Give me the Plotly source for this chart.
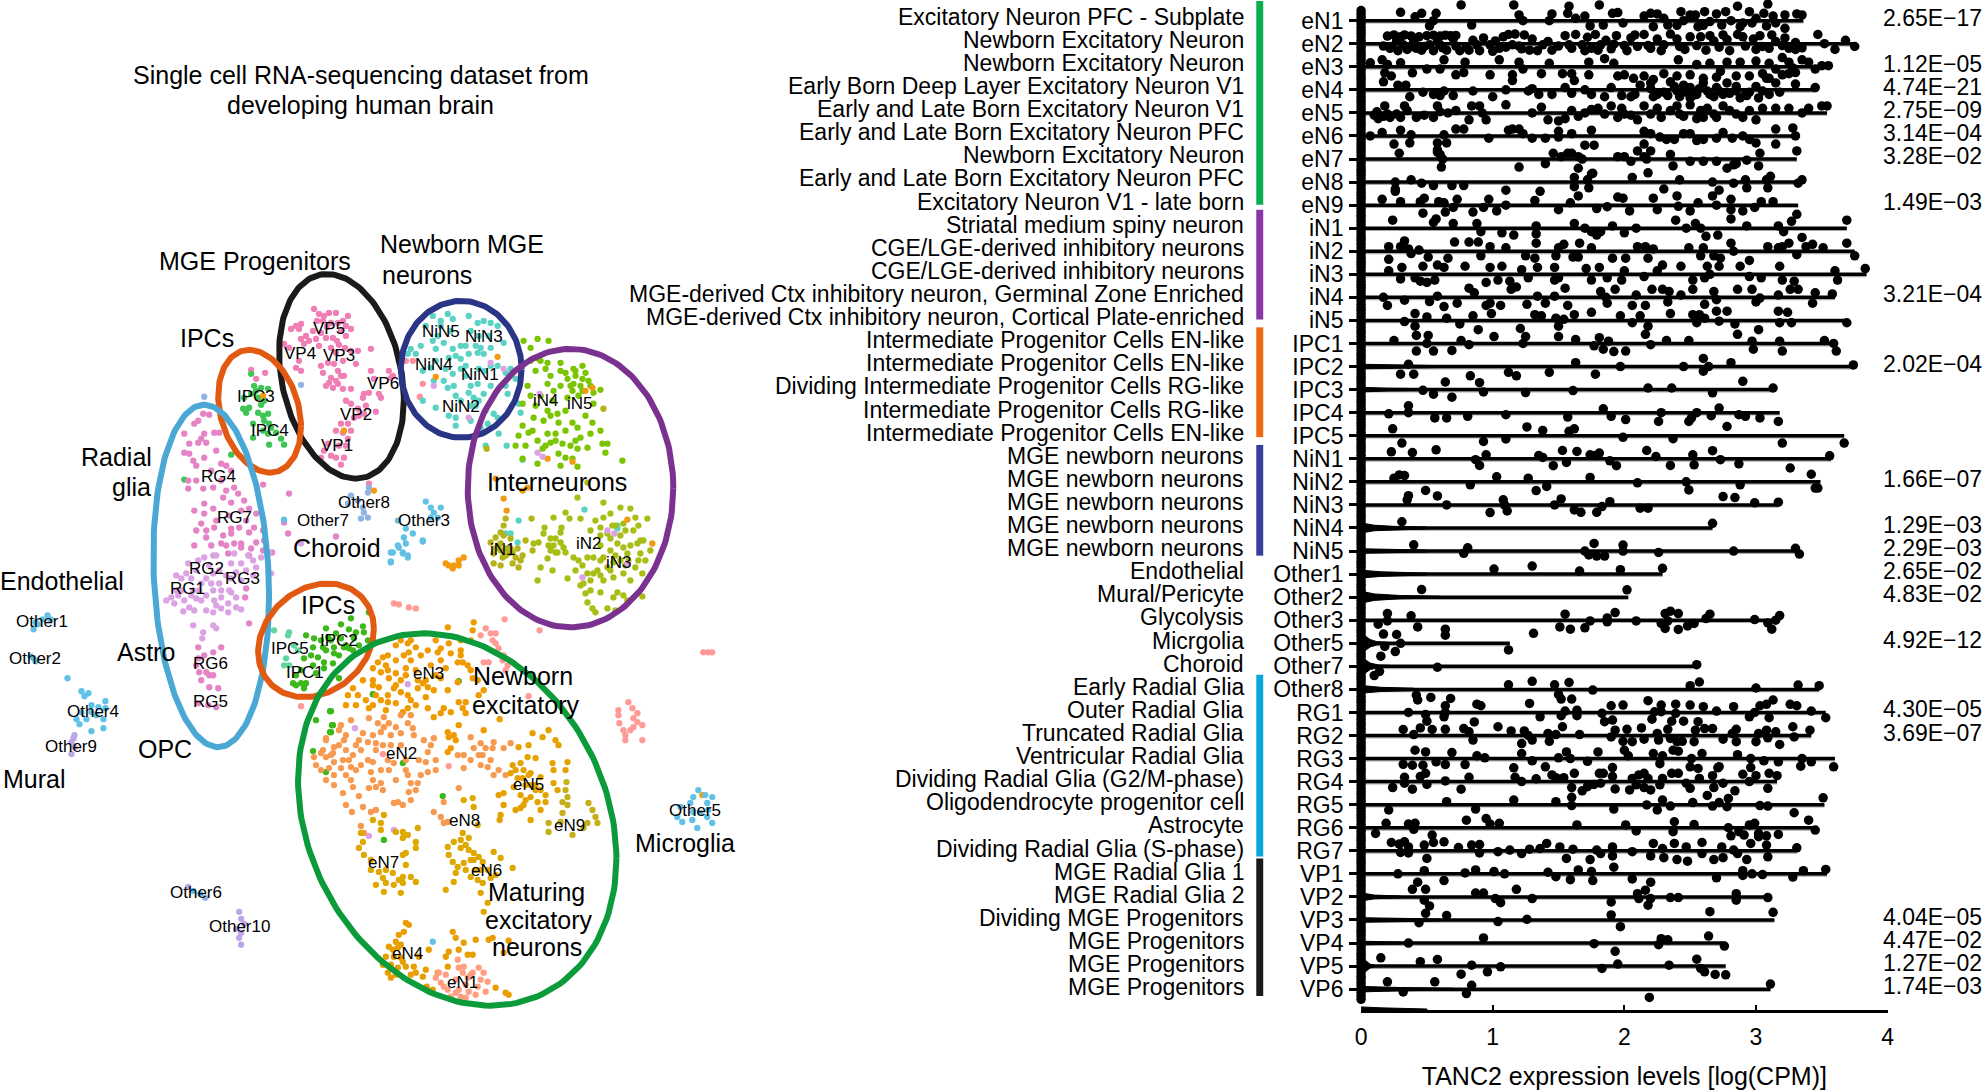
import numpy as np
import plotly.graph_objects as go

W, H = 1988, 1090
K = 1988/1568
rows = ["eN1","eN2","eN3","eN4","eN5","eN6","eN7","eN8","eN9","iN1","iN2","iN3","iN4","iN5","IPC1","IPC2","IPC3","IPC4","IPC5","NiN1","NiN2","NiN3","NiN4","NiN5","Other1","Other2","Other3","Other5","Other7","Other8","RG1","RG2","RG3","RG4","RG5","RG6","RG7","VP1","VP2","VP3","VP4","VP5","VP6"]
names = ["Excitatory Neuron PFC - Subplate","Newborn Excitatory Neuron","Newborn Excitatory Neuron","Early Born Deep Layer Excitatory Neuron V1","Early and Late Born Excitatory Neuron V1","Early and Late Born Excitatory Neuron PFC","Newborn Excitatory Neuron","Early and Late Born Excitatory Neuron PFC","Excitatory Neuron V1 - late born","Striatal medium spiny neuron","CGE/LGE-derived inhibitory neurons","CGE/LGE-derived inhibitory neurons","MGE-derived Ctx inhibitory neuron, Germinal Zone Enriched","MGE-derived Ctx inhibitory neuron, Cortical Plate-enriched","Intermediate Progenitor Cells EN-like","Intermediate Progenitor Cells EN-like","Dividing Intermediate Progenitor Cells RG-like","Intermediate Progenitor Cells RG-like","Intermediate Progenitor Cells EN-like","MGE newborn neurons","MGE newborn neurons","MGE newborn neurons","MGE newborn neurons","MGE newborn neurons","Endothelial","Mural/Pericyte","Glycolysis","Micrgolia","Choroid","Early Radial Glia","Outer Radial Glia","Truncated Radial Glia","Ventricular Radial Glia","Dividing Radial Glia (G2/M-phase)","Oligodendrocyte progenitor cell","Astrocyte","Dividing Radial Glia (S-phase)","MGE Radial Glia 1","MGE Radial Glia 2","Dividing MGE Progenitors","MGE Progenitors","MGE Progenitors","MGE Progenitors"]
pvals = {"eN1":"2.65E−17","eN3":"1.12E−05","eN4":"4.74E−21","eN5":"2.75E−09","eN6":"3.14E−04","eN7":"3.28E−02","eN9":"1.49E−03","iN4":"3.21E−04","IPC2":"2.02E−04","NiN2":"1.66E−07","NiN4":"1.29E−03","NiN5":"2.29E−03","Other1":"2.65E−02","Other2":"4.83E−02","Other5":"4.92E−12","RG1":"4.30E−05","RG2":"3.69E−07","VP3":"4.04E−05","VP4":"4.47E−02","VP5":"1.27E−02","VP6":"1.74E−03"}
vmax = [3.36,3.75,3.55,3.45,3.54,3.30,3.31,3.35,3.32,3.69,3.75,3.84,3.60,3.69,3.61,3.74,3.13,3.18,3.67,3.57,3.49,3.17,2.67,3.33,2.29,2.03,3.18,1.13,2.55,3.48,3.53,3.42,3.60,3.16,3.52,3.45,3.31,3.54,3.10,3.14,2.76,2.77,3.11]

# expression values per cluster: (log CPM, jitter in row units)
eN1_pts=[(.30,-.36),(.41,-.17),(.46,-.32),(.57,-.32),(.55,0),(.52,.23),(.76,-.68),(.84,.19),(1.16,-.68),(1.20,-.25),(1.23,0),(1.45,-.29),(1.43,0),(1.58,-.63),(1.57,-.32),(1.63,-.1),(1.70,-.2),(1.74,.23),(1.81,-.68),(1.84,.19),(1.91,-.32),(1.95,-.35),(1.99,.1),(2.20,-.32),(2.22,.26),(2.25,-.29),(2.33,.19),(2.43,-.39),(2.45,0),(2.50,-.25),(2.54,-.25),(2.56,.26),(2.61,-.39),(2.65,.04),(2.70,-.29),(2.74,.19),(2.77,-.39),(2.81,0),(2.86,-.63),(2.88,.26),(2.95,-.39),(2.97,.1),(3.06,-.32),(3.09,-.72),(3.08,.23),(3.13,-.2),(3.22,-.25),(3.22,.33),(3.31,-.29),(3.35,-.25),(2.4,.2),(2.6,.2),(2.9,.1),(3.0,-.1),(3.15,.1),(2.3,-.1),(2.15,-.2)]
eN2_pts=[(.2,-.33),(.25,-.38),(.3,-.3),(.33,-.38),(.38,-.34),(.44,-.3),(.5,-.35),(.55,-.37),(.6,-.33),(.64,-.37),(.68,-.35),(.72,-.36),(.17,.1),(.22,.2),(.28,.3),(.32,.05),(.35,.25),(.42,.2),(.48,.12),(.55,.3),(.6,.05),(.65,.28),(.72,.1),(.8,.15),(.85,-.15),(.9,.3),(.93,-.25),(.98,.05),(1.0,.33),(1.05,.2),(1.08,-.3),(1.12,-.4),(1.17,-.42),(1.2,.1),(1.24,-.38),(1.28,.28),(1.3,-.2),(1.38,.05),(1.42,-.1),(1.5,.1),(1.55,-.35),(1.6,.2),(1.63,-.4),(1.68,.05),(1.72,-.28),(1.75,.2),(1.78,-.4),(1.82,.05),(1.86,-.15),(1.9,.22),(1.94,-.35),(2.0,.08),(2.05,-.25),(2.1,.12),(2.15,-.4),(2.2,.2),(2.25,-.2),(2.3,.05),(2.35,-.42),(2.42,.12),(2.5,-.3),(2.55,.08),(2.62,.28),(2.65,-.35),(2.72,.15),(2.78,-.18),(2.8,.3),(2.86,-.4),(2.92,.1),(2.98,-.2),(3.03,-.35),(3.05,.12),(3.1,.2),(3.15,-.1),(3.2,.08),(3.25,.2),(3.3,-.05),(3.35,.18),(3.47,-.4),(3.52,0),(3.6,.25),(3.68,-.15),(3.75,.12),(.23,.12),(.27,-.12),(.37,.15),(.4,-.1),(.46,.28),(.52,.05),(.58,-.12),(.62,.18),(.7,-.22),(.75,.3),(.82,.28),(.88,.05),(1.02,-.12),(1.1,.15),(1.15,.05),(1.22,.22),(1.34,.3),(1.45,.28),(1.58,.05),(1.7,.3),(1.8,.28),(1.92,.02),(2.02,.3),(2.08,-.38),(2.18,.08),(2.28,.3),(2.4,-.2),(2.46,.25),(2.58,-.3),(2.68,-.12),(2.75,-.38),(2.9,-.3),(3.0,.25),(3.12,-.38),(3.22,-.25),(3.3,.25)]
eN3_pts=[(.07,-.17),(.16,-.3),(.2,-.1),(.18,.26),(.23,.4),(.3,-.17),(.39,.26),(.5,.1),(.6,.1),(.63,-.3),(.72,.35),(.78,.25),(.79,-.2),(.98,.35),(1.05,-.3),(1.15,.35),(1.2,-.2),(1.23,.1),(1.37,.3),(1.43,-.15),(1.53,.3),(1.6,.3),(1.73,-.2),(1.73,.35),(1.85,-.35),(1.92,-.15),(2.0,.35),(2.07,.5),(2.15,.4),(2.22,.55),(2.4,.4),(2.41,-.3),(2.5,.35),(2.6,.5),(2.65,-.15),(2.7,.45),(2.73,.2),(2.78,-.2),(2.85,.4),(2.88,-.2),(2.95,.4),(3.0,-.25),(3.08,.5),(3.1,-.15),(3.2,-.4),(3.25,.3),(3.28,.05),(3.35,-.3),(3.4,-.2),(3.45,.1),(3.5,-.05),(3.55,-.05),(3.3,.25),(3.2,.35),(3.1,.5),(3.05,.3),(3.15,.1),(3.25,-.2),(2.55,-.1),(2.3,.3),(1.95,.4)]
eN4_pts=[(.17,-.35),(.28,-.2),(.34,-.2),(.37,.3),(.47,.1),(.55,.2),(.6,.25),(.63,.05),(.7,.25),(.85,.05),(1.0,.3),(1.1,0),(1.15,-.4),(1.27,.05),(1.3,-.05),(1.35,.2),(1.45,.2),(1.55,-.1),(1.6,.15),(1.62,-.4),(1.7,0),(1.75,.2),(1.85,.3),(1.98,.25),(2.08,.2),(2.12,-.2),(2.2,-.05),(2.22,.3),(2.3,.1),(2.35,-.35),(2.4,.05),(2.42,.3),(2.5,-.1),(2.55,.2),(2.6,-.3),(2.63,.05),(2.68,.3),(2.7,-.1),(2.75,.2),(2.78,-.3),(2.85,.05),(2.88,.35),(2.92,.2),(3.0,-.15),(3.02,.35),(3.1,.2),(3.15,-.3),(3.18,.1),(3.3,-.25),(3.45,-.1),(2.45,-.2),(2.52,.25),(2.85,-.15),(2.93,.25),(2.25,.2),(2.33,.25),(2.38,-.15),(2.47,.1),(2.57,-.05),(2.65,.2),(2.72,.05),(2.8,.15),(2.95,.1),(3.05,.05),(2.2,-.3),(2.5,.35),(1.9,-.1),(2.05,.3)]
eN5_pts=[(.1,.1),(.13,.25),(.17,.15),(.18,-.3),(.22,.2),(.3,.2),(.33,-.3),(.35,-.1),(.42,.2),(.48,.1),(.55,.2),(.58,-.3),(.6,-.05),(.66,0),(.72,-.1),(.82,.3),(.84,-.3),(.9,-.3),(.92,0),(.95,.3),(1.1,-.35),(1.3,0),(1.37,-.25),(1.42,.3),(1.5,.35),(1.55,.25),(1.6,-.1),(1.65,.15),(1.7,0),(1.75,-.15),(1.8,-.2),(1.9,-.3),(1.95,.2),(2.0,.05),(2.1,.3),(2.15,-.3),(2.2,.05),(2.28,.2),(2.35,-.1),(2.4,-.3),(2.45,.15),(2.5,-.35),(2.55,.25),(2.63,-.2),(2.68,.05),(2.75,-.3),(2.8,-.1),(2.9,.2),(3.05,-.2),(3.15,-.2),(3.25,-.2),(3.35,0),(3.4,-.2),(3.5,-.3),(3.54,-.3),(2.6,.2),(3.0,.3),(.12,-.05),(.2,.05),(.27,.05),(1.85,.05),(2.05,.1),(2.25,-.2),(2.42,.05),(2.58,-.1),(2.7,.2),(2.85,.05),(2.95,-.1),(1.98,-.2)]
eN6_pts=[(.07,0),(.16,-.15),(.25,.35),(.3,-.25),(.38,-.05),(.37,.3),(.65,.3),(.63,-.05),(.72,-.3),(.78,-.3),(.97,.1),(1.12,-.25),(1.15,-.3),(1.2,-.3),(1.23,-.1),(1.3,.1),(1.4,.1),(1.5,.05),(1.5,-.2),(1.6,-.1),(1.7,.4),(1.77,.4),(1.75,-.25),(2.15,-.2),(2.2,-.1),(2.27,.05),(2.32,.15),(2.38,.15),(2.45,-.1),(2.5,-.1),(2.55,.2),(2.6,.15),(2.7,.1),(2.75,-.15),(2.82,.1),(2.9,0),(2.95,.15),(3.0,.3),(3.15,.35),(3.15,-.3),(3.28,-.35),(3.3,0),(2.15,.35),(.58,.3),(.58,.6)]
eN7_pts=[(.29,-.25),(.58,-.3),(.6,-.2),(.62,0),(.61,.35),(1.2,.35),(1.4,.2),(1.46,-.25),(1.52,-.1),(1.57,-.25),(1.6,-.25),(1.65,-.1),(1.68,0),(1.65,.4),(1.76,.62),(1.95,-.1),(2.0,-.1),(2.05,.1),(2.1,-.35),(2.15,-.1),(2.17,0),(2.2,-.35),(2.35,-.2),(2.37,.3),(2.5,.1),(2.6,.1),(2.7,.1),(2.78,.4),(2.83,.25),(2.85,.2),(2.93,.05),(3.03,-.25),(3.02,.3),(3.31,-.35)]
eN8_pts=[(.26,.4),(.26,.3),(.26,0),(.38,-.1),(.46,.05),(.55,.15),(.69,.15),(.78,.15),(1.1,.35),(1.36,.4),(1.62,-.2),(1.62,.2),(1.72,-.1),(1.73,.25),(1.75,-.35),(2.06,-.2),(2.18,-.4),(2.3,.3),(2.42,-.1),(2.67,0),(2.72,.35),(2.83,.05),(2.92,-.1),(2.93,.25),(3.08,-.1),(3.11,-.25),(3.09,.25),(3.35,-.1),(3.32,.05)]
eN9_pts=[(.16,-.25),(.3,-.15),(.45,-.15),(.48,-.3),(.59,-.15),(.63,-.1),(.73,-.25),(.7,.1),(.64,.3),(.47,.35),(.85,.3),(.97,-.25),(.93,.1),(1.03,.25),(1.1,0),(1.32,-.2),(1.5,.2),(1.59,-.1),(1.65,-.4),(1.79,.15),(1.87,.07),(1.95,-.35),(1.99,-.3),(2.04,.25),(2.22,-.3),(2.25,.2),(2.4,-.4),(2.41,.05),(2.5,.25),(2.56,-.1),(2.67,-.4),(2.7,0),(2.81,-.25),(2.81,.2),(2.9,.25),(2.99,.1),(3.04,-.15),(3.13,-.15),(3.31,.4)]
iN1_pts=[(.24,-.35),(.55,-.25),(.57,-.4),(.7,-.2),(.88,-.2),(.91,.15),(1.07,.2),(1.16,.3),(1.33,-.1),(1.33,.25),(1.62,-.2),(1.7,0),(1.75,.15),(1.79,.3),(1.82,.15),(1.91,-.1),(2.0,.2),(2.09,0),(2.39,-.35),(2.47,0),(2.54,-.2),(2.58,0),(2.62,.35),(2.71,.3),(2.81,-.4),(2.93,-.1),(3.17,-.1),(3.21,.15),(3.27,-.3),(3.69,-.35)]
iN2_pts=[(.21,-.2),(.3,-.2),(.33,-.45),(.36,-.1),(.44,-.05),(.21,.35),(.38,.1),(.51,.25),(.66,.3),(.71,-.4),(.82,-.4),(.89,-.4),(.98,-.2),(.91,.2),(1.1,-.15),(1.25,.2),(1.32,.3),(1.33,-.35),(1.5,-.15),(1.48,.2),(1.54,-.3),(1.61,.25),(1.65,.25),(1.66,-.35),(1.75,-.15),(1.91,.3),(2.01,.3),(2.1,-.2),(2.16,-.2),(2.18,.3),(2.22,-.1),(2.49,-.15),(2.58,.2),(2.6,-.15),(2.68,.2),(2.73,.3),(2.81,-.35),(2.83,0),(3.09,-.2),(3.17,-.15),(3.2,-.2),(3.25,-.35),(3.31,.15),(3.35,-.6),(3.38,-.2),(3.43,-.3),(3.51,-.15),(3.69,-.35),(3.75,.2)]
iN3_pts=[(.21,-.15),(.31,-.3),(.3,.2),(.41,.15),(.47,-.35),(.45,.3),(.5,.35),(.56,.25),(.58,-.4),(.63,-.3),(.79,-.35),(.95,.35),(.98,-.3),(1.07,-.35),(1.04,.25),(1.13,.3),(1.22,-.2),(1.27,.15),(1.34,-.3),(1.47,-.3),(1.47,.25),(1.5,.15),(1.71,-.25),(1.75,.25),(1.81,-.3),(1.87,.15),(2.0,-.15),(1.98,.25),(2.15,.1),(2.25,-.15),(2.29,-.4),(2.43,-.35),(2.52,.25),(2.61,.15),(2.63,-.35),(2.65,0),(2.72,-.35),(2.88,-.35),(2.95,-.6),(2.95,.1),(3.04,.15),(3.18,-.35),(3.2,.25),(3.29,.3),(3.6,-.15),(3.62,.25),(3.83,-.25)]
iN4_pts=[(.17,0),(.2,.35),(.33,.12),(.52,.18),(.58,-.05),(.63,.4),(.73,.25),(.82,-.4),(.86,-.2),(.95,.35),(.98,.25),(1.06,.35),(1.14,-.35),(1.18,-.45),(1.26,.3),(1.34,-.05),(1.4,.25),(1.47,-.05),(1.55,-.4),(1.57,.35),(1.82,-.25),(1.86,0),(1.87,.25),(1.93,-.35),(2.06,.35),(2.09,-.1),(2.16,.35),(2.21,-.35),(2.29,-.35),(2.34,-.25),(2.33,.2),(2.43,-.1),(2.52,-.35),(2.61,.3),(2.68,-.25),(2.7,.1),(2.86,-.35),(2.97,-.35),(3.0,.2),(3.03,.03),(3.17,-.1),(3.26,-.35),(3.32,-.35),(3.43,.25),(3.45,-.2),(3.58,-.15)]
iN5_pts=[(.33,.05),(.41,-.3),(.41,.25),(.5,-.15),(.65,-.1),(.75,.15),(.85,-.2),(.99,-.3),(1.32,-.25),(1.37,-.2),(1.48,-.1),(1.5,.25),(1.54,-.05),(1.62,-.25),(1.75,-.35),(1.97,-.2),(2.06,.1),(2.12,-.2),(2.18,.25),(2.35,-.3),(2.52,-.25),(2.57,-.25),(2.55,.1),(2.61,-.1),(2.7,-.4),(2.72,.03),(2.78,-.4),(2.84,.15),(3.17,-.4),(3.18,.1),(3.24,-.35),(3.27,.1),(3.69,.1)]
IPC1_pts=[(.25,-.13),(.42,-.35),(.51,-.35),(.5,0),(.42,.33),(.55,.33),(.69,.3),(.76,-.13),(.82,.05),(.89,-.6),(1.01,-.3),(1.21,-.65),(1.25,-.3),(1.23,0),(1.5,-.3),(1.63,-.17),(1.81,-.25),(1.77,.1),(1.84,.25),(1.88,-.1),(1.92,.35),(2.01,.33),(2.16,-.4),(2.2,.05),(2.32,-.13),(2.49,-.13),(2.86,-.4),(2.97,-.1),(2.98,.25),(3.02,-.6),(3.18,-.1),(3.2,.33),(3.52,-.13),(3.59,0),(3.61,.33)]
IPC2_pts=[(.36,-.1),(.3,.33),(.4,.33),(.83,.4),(1.12,.25),(1.18,.4),(1.43,.25),(1.63,-.17),(1.78,.33),(1.97,0),(2.45,0),(2.6,-.35),(2.6,.2),(2.64,0),(2.81,-.17),(3.74,-.07)]
IPC3_pts=[(.47,.03),(.55,.2),(.64,-.33),(.69,.33),(.9,-.3),(.93,.1),(1.25,.13),(1.61,.04),(2.18,-.07),(2.36,-.07),(2.67,.14),(2.9,-.36),(3.13,-.07)]
IPC4_pts=[(.21,.05),(.36,-.3),(.36,0),(.56,.23),(.65,.23),(.81,.16),(1.1,.09),(1.57,.19),(1.84,-.17),(1.9,.16),(2.01,.3),(2.26,.38),(2.28,0),(2.49,.38),(2.51,.23),(2.55,0),(2.66,.13),(2.72,-.2),(2.78,.6),(2.87,.09),(2.92,.16),(3.03,.23),(3.17,.38)]
IPC5_pts=[(.24,-.3),(.31,.32),(.93,.25),(1.1,.14),(1.26,-.38),(1.38,-.23),(1.58,-.19),(1.62,-.3),(1.99,.07),(2.37,.13),(3.2,.32),(3.67,.32)]
NiN1_pts=[(.23,-.3),(.39,-.27),(.57,-.39),(.87,.04),(.9,.29),(.95,-.17),(1.35,-.14),(1.38,-.06),(1.46,.3),(1.53,-.36),(1.56,.16),(1.64,-.32),(1.74,-.17),(1.78,-.14),(1.81,-.25),(1.89,.09),(1.94,.3),(2.17,-.36),(2.24,-.1),(2.35,.29),(2.52,-.17),(2.53,.26),(2.67,-.35),(2.73,.04),(2.87,.22),(3.26,.4),(3.56,-.13)]
NiN2_pts=[(.25,-.16),(.29,-.3),(.33,-.27),(.83,.13),(1.03,-.22),(1.27,-.16),(1.33,.38),(1.41,.2),(1.74,-.19),(2.1,.04),(2.47,0),(2.49,.35),(2.88,.13),(3.42,-.33),(3.45,.27),(3.47,.27)]
NiN3_pts=[(.36,-.4),(.35,-.22),(.49,-.63),(.58,-.39),(.65,0),(.98,.33),(1.08,-.22),(1.09,0),(1.11,.26),(1.47,0),(1.52,-.26),(1.62,.22),(1.67,.32),(1.79,.32),(1.83,.07),(1.89,-.14),(2.12,.14),(2.18,.14),(2.75,-.36),(2.84,-.32),(2.99,-.09),(3.17,-.12)]
NiN4_pts=[(.31,-.27),(2.67,-.2)]
NiN5_pts=[(.4,-.27),(.81,-.14),(.78,.1),(1.7,0),(1.73,.17),(1.77,-.33),(1.79,.22),(1.85,.22),(1.99,-.26),(1.99,0),(2.26,.06),(2.83,0),(3.3,-.12),(3.33,.13)]
Other1_pts=[(1.01,-.22),(1.3,-.35),(1.66,-.13),(1.97,-.19),(2.29,-.25)]
Other2_pts=[(.46,-.33),(2.02,-.32)]
Other3_pts=[(.13,.17),(.2,-.29),(.2,.03),(.38,-.19),(.43,.29),(.64,.39),(.64,.65),(1.55,-.26),(1.51,.29),(1.59,.39),(1.7,.33),(1.74,.03),(1.87,-.1),(1.87,.07),(1.93,-.33),(2.09,.03),(2.31,-.29),(2.35,-.39),(2.41,-.29),(2.28,.14),(2.31,.36),(2.33,.03),(2.41,.4),(2.48,.25),(2.53,.14),(2.62,-.07),(2.65,-.26),(2.99,-.03),(3.09,.12),(3.12,.39),(3.15,0),(3.18,-.2)]
Other5_pts=[(.17,-.4),(.27,-.38),(.3,0),(.18,.14),(.26,.36),(.15,.56),(1.31,-.43),(1.12,.29)]
Other7_pts=[(.58,.04),(2.55,-.07),(.1,.4),(.14,.22)]
Other8_pts=[(1.12,-.2),(1.3,-.35),(1.47,-.2),(1.5,.22),(1.52,.42),(1.58,-.3),(1.6,.42),(1.76,.03),(.42,.25),(.43,.46),(.53,.35),(.68,.39),(2.5,-.16),(2.57,-.32),(3.0,-.06),(3.32,-.19),(3.48,-.16),(2.18,.49),(3.13,.46)]
RG1_pts=[(.36,0),(.49,.09),(.5,.38),(.64,-.29),(.64,0),(.63,.19),(.88,-.36),(.91,-.29),(1.28,-.39),(1.36,.19),(1.52,.14),(1.55,-.06),(1.64,-.1),(1.64,.14),(1.83,.04),(1.85,.4),(1.9,-.29),(1.91,.33),(1.99,-.32),(2.21,.29),(2.23,-.03),(2.28,-.32),(2.28,-.03),(2.36,.38),(2.39,-.36),(2.39,.04),(2.45,.38),(2.5,-.32),(2.56,.4),(2.6,-.25),(2.7,-.06),(2.83,-.25),(2.95,.19),(2.99,0),(3.03,-.29),(3.08,-.35),(3.1,.23),(3.26,-.35),(3.31,-.29),(3.42,-.06),(3.53,.23)]
RG2_pts=[(.32,-.26),(.4,-.04),(.45,-.33),(.54,-.26),(.64,-.27),(.78,-.3),(.82,-.16),(.85,.2),(.86,-.59),(1.04,-.38),(1.14,-.2),(1.22,.35),(1.24,-.2),(1.27,0),(1.3,.2),(1.42,-.09),(1.43,.25),(1.48,-.04),(1.53,-.38),(1.66,-.04),(1.9,.06),(1.93,-.23),(1.99,.25),(2.02,-.27),(2.06,.27),(2.13,-.33),(2.15,.16),(2.25,-.09),(2.26,.2),(2.33,-.27),(2.35,.13),(2.4,.27),(2.44,.25),(2.54,-.23),(2.53,.27),(2.61,-.3),(2.67,-.3),(2.75,.16),(2.82,-.09),(2.85,-.27),(2.85,.27),(3.0,.27),(3.02,-.09),(3.08,-.23),(3.09,.1),(3.15,-.16),(3.18,.39),(3.28,-.38),(3.29,.06),(3.41,-.23)]
RG3_pts=[(.32,.25),(.41,-.36),(.39,.29),(.49,-.29),(.47,.29),(.57,.14),(.64,.26),(.69,-.26),(.79,.26),(.88,-.12),(.94,-.03),(1.16,.4),(1.22,-.22),(1.3,.1),(1.4,.36),(1.5,-.03),(1.56,-.29),(1.59,0),(1.72,.12),(1.8,-.29),(1.91,.39),(2.0,-.36),(2.03,-.12),(2.22,-.22),(2.27,.22),(2.29,-.12),(2.37,-.36),(2.41,-.32),(2.51,0),(2.5,.36),(2.59,-.22),(2.56,.43),(2.71,.4),(2.86,-.17),(2.96,0),(2.96,.39),(3.06,.1),(3.17,.14),(3.34,.33),(3.35,0),(3.42,.14),(3.59,.36)]
RG4_pts=[(.24,.26),(.33,-.19),(.33,.07),(.39,.33),(.45,-.22),(.49,-.36),(.5,.12),(.64,-.03),(.76,.33),(.82,-.19),(1.17,-.19),(1.22,0),(1.33,-.12),(1.45,-.29),(1.48,-.17),(1.54,-.17),(1.6,.26),(1.62,-.36),(1.68,.4),(1.72,.22),(1.77,.12),(1.82,.07),(1.81,-.36),(1.84,-.36),(1.91,-.22),(1.93,.32),(2.04,.36),(2.06,-.14),(2.09,.14),(2.11,-.29),(2.15,.26),(2.18,-.14),(2.15,-.36),(2.2,.36),(2.29,-.14),(2.27,.14),(2.36,-.36),(2.41,-.36),(2.47,.07),(2.5,.29),(2.57,-.14),(2.63,.6),(2.67,-.26),(2.68,.26),(2.75,.07),(2.72,-.65),(2.84,.4),(2.9,-.32),(2.95,0),(3.0,-.26),(3.09,.29),(3.1,-.36),(3.16,-.26)]
RG5_pts=[(.21,.23),(.65,-.13),(.87,.19),(1.16,-.2),(1.48,-.13),(1.6,-.32),(1.6,.04),(1.92,.19),(2.17,.01),(2.25,.23),(2.29,-.2),(2.35,.06),(2.52,-.09),(2.67,.06),(2.72,-.09),(2.78,.09),(2.79,-.27),(3.03,.04),(3.09,.06),(3.29,.35),(3.51,-.3)]
RG6_pts=[(.11,.25),(.19,-.19),(.36,-.16),(.41,-.19),(.4,.07),(.8,-.33),(.95,-.4),(.98,-.16),(1.05,-.19),(1.64,-.12),(2.01,-.12),(2.09,.14),(2.38,-.26),(2.37,.17),(2.53,-.14),(2.79,0),(2.81,.35),(2.87,.17),(2.91,.32),(2.95,-.12),(2.99,-.19),(3.02,.25),(3.02,.39),(3.08,.35),(3.17,.29),(3.4,-.33),(3.45,.1)]
RG7_pts=[(.23,-.36),(.29,-.29),(.3,.07),(.33,-.39),(.36,-.17),(.36,.09),(.48,-.25),(.5,.33),(.54,-.68),(.55,-.36),(.63,-.39),(.74,-.14),(.84,-.25),(.9,-.27),(.9,.09),(1.04,.04),(1.13,-.03),(1.22,.12),(1.28,-.07),(1.36,-.1),(1.41,-.32),(1.51,-.17),(1.56,.33),(1.61,-.07),(1.74,.38),(1.79,-.03),(1.82,.12),(1.91,-.17),(1.91,.22),(2.06,.04),(2.22,-.32),(2.2,.22),(2.29,-.1),(2.3,.3),(2.38,-.32),(2.4,.38),(2.47,-.17),(2.48,.45),(2.59,-.36),(2.59,.12),(2.68,.38),(2.74,-.17),(2.75,.3),(2.83,-.03),(2.86,.12),(2.93,.38),(2.96,-.32),(3.08,-.25),(3.09,.26),(3.31,-.13)]
VP1_pts=[(.28,0),(.48,-.14),(.43,.36),(.63,.29),(.79,-.04),(.87,-.17),(1.01,-.1),(1.09,0),(1.42,-.07),(1.48,.12),(1.59,.25),(1.65,-.17),(1.75,-.1),(1.76,.29),(1.92,-.29),(2.06,.22),(2.2,.36),(2.7,.17),(2.9,-.14),(2.9,.07),(2.97,0),(3.05,.03),(3.28,.14),(3.36,-.14),(3.53,-.19)]
VP2_pts=[(.39,-.33),(.49,-.33),(.48,.14),(.52,.39),(.87,-.17),(.93,-.17),(1.02,.07),(1.06,.25),(1.18,-.33),(1.3,.07),(1.9,.22),(2.1,-.14),(2.11,.07),(2.16,-.29),(2.2,.07),(2.18,.36),(2.35,.03),(2.41,.03),(2.85,-.14),(2.85,.14),(3.09,.03)]
VP3_pts=[(.44,.12),(.49,-.29),(.65,-.19),(1.04,.07),(1.26,-.03),(1.9,-.22),(1.97,.29),(2.65,-.36),(3.13,-.33)]
VP4_pts=[(.36,0),(.93,-.22),(1.77,.03),(1.93,.36),(2.26,.07),(2.28,-.19),(2.33,-.14),(2.64,-.3),(2.76,.13)]
VP5_pts=[(.15,-.36),(.45,-.19),(.58,-.29),(.84,-.04),(.76,.35),(.96,.25),(1.06,.03),(1.83,.1),(1.95,-.09),(2.34,-.04),(2.55,-.3),(2.58,.1),(2.61,.25),(2.69,.36),(2.77,.38)]
VP6_pts=[(.2,-.32),(.56,-.32),(.32,.12),(.84,-.17),(.8,.19),(2.19,.36),(3.11,-.22)]
all_pts=[eN1_pts,eN2_pts,eN3_pts,eN4_pts,eN5_pts,eN6_pts,eN7_pts,eN8_pts,eN9_pts,iN1_pts,iN2_pts,iN3_pts,iN4_pts,iN5_pts,IPC1_pts,IPC2_pts,IPC3_pts,IPC4_pts,IPC5_pts,NiN1_pts,NiN2_pts,NiN3_pts,NiN4_pts,NiN5_pts,Other1_pts,Other2_pts,Other3_pts,Other5_pts,Other7_pts,Other8_pts,RG1_pts,RG2_pts,RG3_pts,RG4_pts,RG5_pts,RG6_pts,RG7_pts,VP1_pts,VP2_pts,VP3_pts,VP4_pts,VP5_pts,VP6_pts]
zero_jitter=[-.44,-.3,-.15,0,.15,.3,.44]
# violin shape near zero: (x, half width in rows)
violin_shape={"NiN4":[(0,.22),(.1,.12),(.25,.07),(.5,.04)],"NiN5":[(0,.1),(.3,.06),(.5,.04)],"IPC2":[(0,.1),(.3,.07),(.6,.04)],"IPC3":[(0,.1),(.2,.06),(.5,.04)],"Other1":[(0,.17),(.15,.1),(.5,.04)],"Other2":[(0,.26),(.1,.14),(.3,.07),(.6,.04)],"Other5":[(0,.52),(.03,.32),(.07,.16),(.12,.07),(.2,.04)],"Other7":[(0,.52),(.03,.3),(.07,.14),(.13,.06),(.22,.04)],"Other8":[(0,.17),(.15,.09),(.4,.05)],"VP2":[(0,.18),(.1,.08),(.3,.04)],"VP3":[(0,.1),(.3,.06),(.6,.04)],"VP4":[(0,.08),(.3,.04)],"VP5":[(0,.48),(.03,.26),(.07,.08),(.1,.04)],"VP6":[(0,.12),(.3,.07),(.7,.04)]}
axis_wedge=[(0,.14),(.15,.1),(.5,.05)]

# embedding coordinates per cluster
VP_xy=[(313,308),(318,313),(323,315),(328,312),(335,312),(347,315),(342,320),(337,322),(320,332),(325,337),(332,337),(315,338),(340,330),(345,335),(350,328),(290,328),(295,325),(300,323),(298,328),(305,335),(303,343),(308,340),(283,343),(288,347),(330,347),(335,352),(350,350),(357,350),(370,348),(320,365),(327,362),(333,363),(337,370),(342,360),(343,375),(355,363),(295,367),(298,360),(330,377),(325,385),(332,387),(328,382),(337,383),(342,388),(350,388),(370,370),(388,370),(392,375),(363,393),(368,392),(378,393),(380,397),(390,377),(362,397),(373,378),(375,411),(345,400),(350,403),(357,408),(358,415),(363,413),(353,417),(340,423),(347,423),(350,430),(342,432),(347,438),(338,445),(327,443),(323,450),(320,457),(335,457),(343,457),(340,464),(368,483),(250,369),(255,378),(264,372),(300,370),(344,347),(316,320),(326,326),(338,344),(322,320),(330,322),(345,325),(312,330),(318,345),(336,340),(322,372),(340,375),(365,405),(335,380),(335,430),(345,445),(330,455),(300,338)]
VPb_xy=[(405,360),(412,360),(422,383),(419,396),(398,360)]
IPCa_xy=[(250,373),(253,385),(260,387),(267,388),(243,397),(250,393),(257,397),(263,400),(242,408),(248,407),(245,412),(257,412),(262,415),(267,413),(263,420),(268,423),(252,423),(262,430),(267,433),(275,432),(280,438),(283,444),(268,444),(252,437),(230,454),(183,479),(255,390),(260,404),(270,427)]
RGa_xy=[(197,420),(202,413),(208,414),(193,423),(183,433),(203,433),(200,438),(205,442),(197,442),(188,443),(213,432),(218,432),(183,452),(188,453),(192,460),(195,465),(187,480),(187,488),(203,457),(220,463),(225,465),(230,470),(202,488),(212,487),(225,490),(233,487),(237,493),(243,500),(230,502),(222,497),(248,508),(255,513),(203,503),(193,510),(203,513),(212,508),(200,523),(213,527),(230,528),(238,527),(253,527),(248,532),(193,545),(205,537),(222,535),(230,533),(233,543),(240,543),(255,542),(263,540),(262,550),(271,552),(262,484),(288,493),(283,522),(287,533),(335,536),(227,553),(240,547),(220,543),(250,548),(245,588),(244,597),(248,623),(197,647),(197,658),(195,665),(203,655),(212,652),(220,647),(208,675),(212,675),(200,680),(208,687),(217,688),(205,672),(197,703),(207,705),(215,707),(198,672),(215,450),(210,470),(195,480),(220,480),(240,510),(228,515),(215,520),(205,530),(245,520),(262,530),(225,545),(210,545),(195,530),(248,555)]
RGb_xy=[(203,557),(212,555),(197,560),(187,563),(175,575),(180,578),(185,573),(165,600),(170,597),(177,595),(173,603),(183,600),(190,595),(195,598),(188,607),(193,610),(182,611),(205,610),(212,612),(220,608),(227,612),(235,607),(240,609),(213,600),(220,597),(227,603),(230,592),(210,583),(218,583),(220,590),(205,578),(200,583),(212,573),(252,560),(255,567),(260,557),(240,563),(230,563),(247,555),(233,553),(215,555),(268,552),(270,573),(192,625),(212,625),(202,632),(201,638),(215,628),(300,543),(180,590),(192,590),(198,590),(205,595),(200,600),(212,590),(228,590),(235,597),(215,605),(208,565),(218,570),(225,575),(235,572),(245,570),(252,575),(240,580),(230,578),(195,570),(190,578),(175,590)]
IPCb_xy=[(350,618),(340,624),(348,629),(362,626),(363,632),(325,628),(313,638),(305,635),(327,637),(335,633),(340,638),(353,638),(367,640),(312,647),(322,647),(333,647),(343,647),(348,648),(303,658),(317,657),(323,662),(333,653),(332,663),(295,675),(300,683),(305,683),(292,683),(303,688),(315,673),(323,668),(338,678),(368,612),(330,711),(315,720),(332,725),(330,732),(312,751),(325,772),(372,694),(329,711),(331,725),(329,732),(372,694),(458,681),(442,796),(383,840),(402,763),(320,640),(345,645),(355,632),(310,655),(330,640),(338,655),(300,670),(312,665),(295,685),(325,650),(358,645),(352,650)]
IPC5_xy=[(273,630),(288,632),(287,635),(293,645),(297,650),(285,658),(283,665),(288,665)]
salmon_xy=[(393,603),(398,604),(408,607),(415,608),(300,706),(628,702),(632,708),(618,710),(618,715),(637,713),(633,718),(619,723),(637,722),(642,725),(633,727),(623,730),(625,735),(625,740),(642,740),(630,730),(703,652),(708,652),(712,652),(504,619),(539,630),(485,628),(480,635),(490,633),(495,633),(492,640),(495,643),(498,648),(502,660),(507,665),(483,662),(488,662),(503,655),(505,670),(528,696),(448,766),(382,754)]
NiN_xy=[(432,315),(447,313),(452,318),(468,315),(477,322),(483,320),(490,322),(497,325),(437,335),(432,340),(443,342),(435,348),(410,348),(415,353),(452,348),(448,357),(460,358),(468,353),(477,352),(483,353),(490,347),(503,342),(460,368),(480,347),(452,373),(443,380),(433,380),(447,387),(453,385),(470,385),(477,383),(468,392),(473,397),(478,400),(483,393),(490,385),(507,393),(422,400),(435,407),(448,415),(455,417),(470,420),(475,405),(493,413),(497,417),(487,423),(480,427),(510,368),(515,378),(497,365),(505,372),(518,403),(520,412),(498,433),(485,445),(506,445),(522,459),(422,370),(430,367),(407,353),(505,533),(510,533),(518,520),(517,542),(584,509),(617,525),(617,528),(440,325),(460,345),(484,370),(465,375),(425,325),(440,320),(450,330),(470,330),(478,335),(488,335),(475,345),(465,345),(455,355),(465,365),(478,368),(490,365),(445,368),(435,360),(455,395),(460,400),(485,410),(470,405),(455,425),(505,385),(420,345)]
iN45_xy=[(523,340),(530,347),(537,338),(548,340),(538,358),(547,362),(560,362),(535,370),(545,368),(573,368),(582,365),(527,385),(547,383),(560,385),(567,378),(573,383),(582,378),(588,380),(572,390),(567,397),(582,390),(593,392),(600,389),(553,390),(593,403),(522,403),(535,405),(547,410),(557,413),(533,417),(543,420),(558,422),(522,425),(572,422),(577,427),(592,422),(528,432),(518,435),(537,440),(547,433),(555,433),(565,430),(590,433),(580,437),(562,443),(550,442),(587,447),(577,448),(607,443),(602,443),(515,445),(537,463),(522,458),(558,453),(565,457),(560,465),(572,458),(542,448),(622,460),(605,452),(577,466),(540,360),(575,375),(570,385),(580,385),(550,415),(555,440),(570,445),(530,360),(550,375),(560,370),(565,372),(575,370),(585,372),(590,385),(578,395),(552,400),(540,395),(530,395),(565,410),(585,415),(600,430),(575,440),(545,445),(532,430),(525,445)]
iN1_xy=[(505,518),(503,525),(500,532),(495,537),(510,538),(490,542),(500,543),(505,548),(517,548),(493,553),(502,557),(508,553),(515,557),(520,560),(512,563),(518,567),(525,540),(532,550),(493,563),(500,565),(531,518),(486,448),(603,408),(498,545),(505,555),(495,548),(510,548),(503,535),(512,552),(500,550),(522,555)]
iN23_xy=[(553,517),(565,512),(569,518),(580,518),(577,497),(603,502),(587,482),(544,527),(543,533),(538,542),(533,543),(555,538),(560,542),(553,545),(550,550),(557,552),(563,547),(565,552),(547,558),(540,567),(561,527),(573,557),(578,560),(587,557),(593,557),(582,565),(587,573),(593,573),(567,578),(580,585),(590,580),(537,580),(552,570),(595,520),(603,517),(610,513),(600,527),(607,533),(620,507),(630,508),(635,517),(647,518),(623,523),(633,530),(643,540),(623,547),(637,543),(650,550),(610,550),(603,557),(640,553),(627,553),(613,562),(607,567),(603,580),(613,577),(623,573),(635,567),(642,573),(630,580),(597,570),(610,538),(617,543),(638,525),(583,583),(587,602),(592,608),(595,612),(607,608),(585,593),(623,595),(613,597),(615,610),(642,596),(600,592),(627,600),(617,592),(615,525),(620,535),(628,560),(600,545),(612,525),(625,530),(600,535),(615,555),(640,540),(630,545),(620,560),(625,565),(610,570),(600,575),(590,590),(600,560),(575,570),(590,530),(645,560),(638,560),(560,532),(555,552),(550,538),(548,545)]
amberS_xy=[(503,498),(506,510),(495,478),(522,490),(527,487),(627,519),(652,543),(497,356),(435,376),(592,387),(585,390),(547,458),(572,461),(445,563),(452,568),(458,560),(463,557),(448,565),(453,565),(458,565),(702,795),(343,430),(373,490),(262,395)]
orchid_xy=[(490,362),(503,368),(468,417),(607,530),(614,533),(627,563),(537,452),(542,456),(539,393),(582,577),(433,385),(354,728),(407,684),(368,836),(393,830)]
Other3_xy=[(425,501),(430,507),(440,507),(433,512),(430,517),(437,517),(397,520),(405,528),(412,533),(403,537),(405,543),(398,547),(390,552),(402,553),(407,555),(422,540),(390,562),(397,545),(402,552),(407,557),(392,552),(390,561),(422,541),(283,519),(46,615),(41,619),(36,624),(32,629),(49,619),(34,622),(32,658),(34,661),(29,656),(66,678),(80,691),(87,693),(83,696),(104,701),(90,705),(97,707),(104,708),(75,719),(85,719),(95,715),(102,719),(78,724),(102,728),(90,731),(80,712),(90,712),(693,797),(698,790),(690,803),(705,795),(712,797),(707,803),(680,807),(677,817),(682,822),(692,820),(700,813),(707,817),(712,823),(697,828),(708,810),(693,812),(432,942),(192,891),(199,894)]
Other8_xy=[(350,495),(357,500),(347,503),(362,507),(363,512),(367,517),(360,518),(368,487),(367,492),(300,384),(203,396),(204,898)]
lav_xy=[(73,735),(70,742),(73,747),(70,754),(72,738),(238,912),(240,919),(235,929),(240,933),(238,938),(240,945),(243,924),(187,887)]
eN3_xy=[(407,643),(415,647),(408,652),(403,655),(435,640),(427,650),(437,652),(440,648),(448,643),(450,653),(460,640),(472,630),(473,622),(447,627),(400,640),(387,655),(382,657),(377,662),(372,668),(380,672),(387,670),(395,673),(388,678),(400,680),(405,675),(417,680),(422,683),(427,687),(417,688),(433,690),(440,678),(447,690),(462,662),(467,665),(457,682),(457,662),(472,678),(477,680),(483,690),(393,688),(400,692),(407,695),(378,687),(372,685),(362,680),(352,688),(357,695),(365,700),(372,705),(380,700),(387,695),(387,702),(395,703),(368,708),(347,695),(345,705),(425,697),(427,708),(415,705),(407,708),(402,712),(443,708),(440,713),(433,717),(458,702),(465,702),(462,708),(465,713),(499,719),(483,730),(447,732),(448,737),(453,735),(450,748),(447,752),(455,740),(410,660),(430,665),(395,660),(460,650),(372,680),(410,640),(420,655),(395,645),(385,665),(405,668),(415,670),(435,675),(395,685),(375,695),(425,680),(440,660),(445,668),(470,670),(478,695),(450,712),(458,725),(410,700),(385,710),(355,705),(460,655),(470,640)]
eN2_xy=[(383,717),(377,723),(383,727),(388,723),(395,727),(407,723),(412,728),(413,735),(400,733),(380,732),(372,735),(368,718),(362,733),(358,740),(340,725),(350,720),(338,730),(325,738),(322,750),(313,757),(315,765),(325,757),(333,747),(343,740),(330,755),(333,762),(340,768),(333,775),(342,760),(350,767),(352,755),(367,742),(375,743),(367,760),(372,762),(370,772),(372,780),(380,783),(388,770),(393,763),(423,740),(433,738),(427,752),(435,760),(425,762),(427,772),(420,775),(407,775),(410,783),(417,783),(408,792),(415,790),(350,780),(352,787),(333,785),(342,793),(358,796),(368,788),(375,787),(397,802),(393,803),(402,805),(362,807),(351,812),(370,812),(360,826),(363,833),(382,790),(320,753),(332,753),(325,740),(457,755),(463,755),(473,748),(470,737),(480,743),(485,748),(493,742),(492,748),(510,743),(503,748),(482,755),(480,765),(487,767),(463,768),(493,775),(505,775),(458,788),(433,812),(443,802),(440,817),(447,822),(443,823),(390,745),(355,770),(345,750),(400,745),(405,760),(395,780),(345,735),(355,745),(320,770),(328,768),(338,745),(348,760),(375,750),(382,745),(387,760),(400,715),(410,715),(390,735),(345,775),(360,750),(380,770),(360,765),(430,745),(435,770),(418,760),(470,760),(478,755),(490,760),(498,770),(410,800),(405,770),(375,810),(345,805),(325,780)]
eN5_xy=[(510,773),(520,763),(527,757),(535,758),(528,745),(518,747),(532,733),(542,737),(548,730),(555,740),(558,745),(523,770),(517,778),(530,773),(540,777),(513,787),(503,793),(498,795),(530,797),(537,802),(545,802),(523,805),(515,810),(520,808),(503,805),(500,815),(499,820),(530,820),(552,763),(553,770),(553,783),(557,790),(567,762),(565,770),(525,785),(520,795),(535,785),(528,775),(522,778),(535,790),(515,770),(512,765),(540,790),(530,785),(545,795),(525,800),(540,810)]
eN9_xy=[(566,782),(565,790),(567,797),(562,802),(567,805),(562,813),(548,823),(548,832),(572,835),(583,828),(587,823),(588,803),(592,810),(595,817),(597,823),(560,822)]
eN68_xy=[(472,798),(473,807),(463,800),(462,833),(468,838),(477,825),(453,842),(460,840),(447,847),(460,848),(468,850),(473,853),(448,855),(452,862),(457,867),(463,863),(473,860),(478,857),(482,862),(493,852),(500,858),(512,868),(465,870),(455,873),(470,877),(477,880),(482,883),(490,878),(445,890),(453,882),(480,893),(487,903),(483,912),(380,823),(383,815),(372,820),(362,842),(358,848),(363,855),(370,860),(378,872),(382,878),(392,873),(375,885),(385,883),(383,892),(393,885),(402,883),(400,893),(402,877),(410,877),(415,882),(405,853),(402,855),(415,842),(415,848),(417,828),(402,832),(407,835),(395,832),(402,838),(360,833),(465,845),(470,860),(480,870),(487,870),(495,875),(475,870),(385,870),(405,865),(398,880),(370,870),(380,830)]
eN4_xy=[(405,923),(408,925),(403,932),(398,935),(395,942),(388,947),(397,948),(385,957),(393,957),(382,965),(387,973),(390,978),(402,962),(405,967),(397,968),(413,967),(415,973),(425,970),(428,950),(418,957),(422,977),(437,973),(452,932),(455,938),(463,943),(458,950),(448,952),(445,957),(467,955),(472,955),(475,940),(488,940),(492,938),(503,953),(508,941),(447,967),(495,988),(505,993),(508,995),(426,987),(432,990),(400,945),(392,950),(400,958),(390,965),(395,975),(410,975)]
eN1_xy=[(457,960),(463,967),(462,973),(458,968),(478,968),(483,973),(472,973),(467,978),(487,982),(438,973),(435,978),(440,983),(447,990),(455,993),(460,997),(468,992),(477,987),(485,992),(443,987),(450,997),(465,998),(465,985),(470,975),(455,980),(445,975),(458,990),(480,980),(475,995)]
clusters=[(VP_xy,"#F07FB6"),(VPb_xy,"#FF8FA0"),(IPCa_xy,"#3FC456"),(RGa_xy,"#E483C6"),(RGb_xy,"#DBA3E4"),(IPCb_xy,"#3DB81A"),(IPC5_xy,"#5FD6A0"),(salmon_xy,"#FF9A96"),(NiN_xy,"#5AD3C4"),(iN45_xy,"#7BC400"),(iN1_xy,"#B5B21A"),(iN23_xy,"#A8BE14"),(amberS_xy,"#F29A10"),(orchid_xy,"#DBA3E4"),(Other3_xy,"#62C1E6"),(Other8_xy,"#8FB4E3"),(lav_xy,"#BDA6E8"),(eN3_xy,"#EF9B00"),(eN2_xy,"#F79A50"),(eN5_xy,"#E4A200"),(eN9_xy,"#C4B018"),(eN68_xy,"#DFA800"),(eN4_xy,"#E89D00"),(eN1_xy,"#FF9E80")]

# ellipses: centre x,y, half extents, tilt, colour
ellipses=[(340.5,375.5,62.5,102.5,0.23,"#1a1a1a"),(460.5,368.5,60.5,68.5,0,"#2B3585"),(570,487.5,103,139.5,0,"#7A3190"),(258.5,410.5,41.5,61.5,0.25,"#E25A12"),(210,575.5,58,171.5,0.12,"#4BA8D5"),(315,640,58,57,-0.2,"#E25A12"),(456.5,819.5,159.5,186.5,0.21,"#0B9B3A")]
big=[("MGE Progenitors",200,205),("Newborn MGE",364,192),("neurons",336,216),("IPCs",162,266),("Radial",91,360),("glia",103,384),("Choroid",265,432),("Endothelial",48,458),("Astro",114,514),("OPC",129,591),("Mural",26,614),("IPCs",258,477),("Newborn",412,533),("excitatory",414,556),("Microglia",540,665),("Maturing",423,704),("excitatory",424,726),("neurons",423,747),("Interneurons",439,380),("Single cell RNA-sequencing dataset from",284,58),("developing human brain",284,82)]
small=[("VP5",259,258),("VP4",236,278),("VP3",267,280),("VP6",301,302),("VP2",280,326),("VP1",265,351),("NiN5",347,261),("NiN3",381,265),("NiN4",342,287),("NiN1",378,295),("NiN2",363,320),("iN4",430,315),("iN5",457,318),("IPC3",201,312),("IPC4",212,339),("RG4",171,375),("RG7",184,408),("RG2",162,448),("RG3",190,456),("RG1",147,464),("RG6",165,523),("RG5",165,553),("Other8",286,396),("Other7",254,410),("Other3",334,410),("iN1",396,433),("iN2",464,428),("iN3",488,443),("Other1",32,490),("Other2",26,519),("Other4",72,561),("Other9",55,589),("IPC5",228,511),("IPC2",267,505),("IPC1",240,530),("eN3",337,531),("eN2",316,594),("eN5",416,619),("eN8",366,647),("eN9",449,651),("eN6",383,687),("eN7",302,680),("eN4",321,752),("eN1",364,775),("Other5",548,639),("Other6",154,704),("Other10",188,731)]
bars=[(-0.85,7.98,"#0AAE4E"),(8.2,12.96,"#8A35A8"),(13.3,18.06,"#EE6A10"),(18.4,23.2,"#36409A"),(28.37,36.25,"#0CA6DA"),(36.33,42.3,"#1a1a1a")]

# embedding axis: data -> page px is slope*x + off
slope,off=1.0046,-4.4
inv=lambda px:(px-off)/slope
F="Liberation Sans"
fig=go.Figure()
for pts,c in clusters:
    a=np.array(pts)
    fig.add_trace(go.Scatter(x=a[:,0],y=a[:,1],mode="markers",marker=dict(color=c,size=6.3,line_width=0),xaxis="x2",yaxis="y2",hoverinfo="skip"))
t=np.linspace(0,2*np.pi,181)
for cx,cy,w,h,rho,c in ellipses:
    fig.add_trace(go.Scatter(x=cx+w*np.cos(t),y=cy+h*np.sin(t+np.arcsin(rho)),mode="lines",line=dict(color=c,width=6),xaxis="x2",yaxis="y2",hoverinfo="skip"))
for i,m in enumerate(vmax):
    fig.add_trace(go.Scatter(x=[0,m],y=[i+0.06,i+0.06],mode="lines",line=dict(color="#aaa",width=3),hoverinfo="skip"))
    fig.add_trace(go.Scatter(x=[0,m],y=[i,i],mode="lines",line=dict(color="#000",width=3.5),hoverinfo="skip"))
    s=violin_shape.get(rows[i])
    if s:
        a=np.array(s)
        fig.add_trace(go.Scatter(x=np.r_[a[:,0],a[::-1,0]],y=np.r_[i-a[:,1],i+a[::-1,1]],mode="lines",fill="toself",fillcolor="#000",line=dict(color="#000",width=1),hoverinfo="skip",cliponaxis=False))
a=np.array(axis_wedge)
fig.add_trace(go.Scatter(x=np.r_[a[:,0],a[::-1,0]],y=np.r_[42.91-a[:,1],42.91+a[::-1,1]],mode="lines",fill="toself",fillcolor="#000",line=dict(color="#000",width=1),hoverinfo="skip",cliponaxis=False))
xs,ys=[],[]
for i,pts in enumerate(all_pts):
    for j in zero_jitter:
        xs.append(0);ys.append(i+j)
    for v,j in pts:
        xs.append(v);ys.append(i+j)
fig.add_trace(go.Scatter(x=xs,y=ys,mode="markers",marker=dict(color="#000",size=9.5,line_width=0),hoverinfo="skip",cliponaxis=False))
for txt,x,y in big:
    fig.add_annotation(text=txt,x=x*K,y=y*K,xref="x2",yref="y2",showarrow=False,font=dict(family=F,size=25,color="#000"))
for txt,x,y in small:
    fig.add_annotation(text=txt,x=x*K,y=y*K,xref="x2",yref="y2",showarrow=False,font=dict(family=F,size=17,color="#000"))
for i,n in enumerate(names):
    fig.add_annotation(text=n,x=inv(1248),y=i-0.17+i*0.002,xref="x2",yref="y",xanchor="right",showarrow=False,font=dict(family=F,size=23,color="#000"))
    if rows[i] in pvals:
        fig.add_annotation(text=pvals[rows[i]],x=inv(1887),y=i-0.13,xref="x2",yref="y",xanchor="left",showarrow=False,font=dict(family=F,size=23,color="#000"))
shapes=[dict(type="rect",xref="x2",yref="y",x0=inv(1258.5),x1=inv(1265.5),y0=a,y1=b,fillcolor=c,line_width=0) for a,b,c in bars]
fig.update_layout(width=W,height=H,autosize=False,margin=dict(l=0,r=0,t=0,b=0),paper_bgcolor="white",plot_bgcolor="rgba(0,0,0,0)",showlegend=False,shapes=shapes,
    xaxis=dict(domain=[1364/W,1894/W],range=[0,4],tickvals=[0,1,2,3,4],ticks="inside",ticklen=5,tickwidth=2,tickcolor="#000",showline=True,linewidth=3,linecolor="#000",showgrid=False,zeroline=False,tickfont=dict(family=F,size=23,color="#000"),ticklabelstandoff=4,anchor="y",title=dict(text="TANC2 expression levels [log(CPM)]",font=dict(family=F,size=25,color="#000"),standoff=23)),
    yaxis=dict(domain=[1-1012/H,1],range=[42.91,-0.896],tickvals=list(range(43)),ticktext=rows,ticks="outside",ticklen=11,tickwidth=3,tickcolor="#000",showgrid=False,zeroline=False,showline=False,tickfont=dict(family=F,size=23,color="#000"),ticklabelstandoff=1,anchor="x"),
    xaxis2=dict(domain=[0,1],range=[-off/slope,-off/slope+W/slope],visible=False,anchor="y2"),
    yaxis2=dict(domain=[0,1],range=[H-1.5,-1.5],visible=False,anchor="x2"))
fig.write_html("out.html",config={"displayModeBar":False},post_script="document.body.style.margin='0';document.body.style.overflow='hidden';")
